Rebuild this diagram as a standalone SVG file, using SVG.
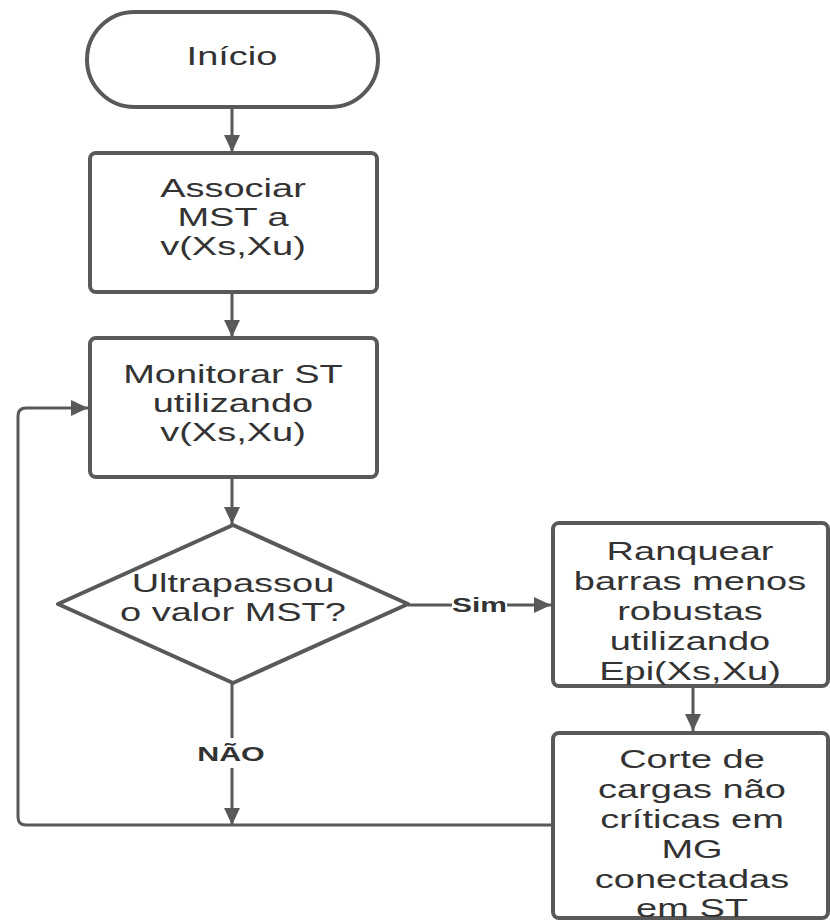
<svg xmlns="http://www.w3.org/2000/svg" width="830" height="921" viewBox="0 0 830 921">
  <defs>
    <marker id="arrow" markerUnits="userSpaceOnUse" markerWidth="18" markerHeight="18" refX="17" refY="8" orient="auto">
      <path d="M0,0 L17,8 L0,16 z" fill="#595959"/>
    </marker>
    <style>
      .shape { fill: #ffffff; stroke: #595959; stroke-width: 4; stroke-linejoin: round; }
      .conn { fill: none; stroke: #595959; stroke-width: 3; }
      .lbl { font-family: "Liberation Sans", Arial, sans-serif; font-size: 25px; fill: #333333; text-anchor: middle; }
      .edge-lbl { font-family: "Liberation Sans", Arial, sans-serif; font-size: 20px; font-weight: bold; fill: #333333; text-anchor: middle; }
    </style>
  </defs>

  <rect width="830" height="921" fill="#ffffff"/>

  <!-- connectors -->
  <g id="connectors">
    <line class="conn" x1="232" y1="108" x2="232" y2="152" marker-end="url(#arrow)"/>
    <line class="conn" x1="232" y1="292" x2="232" y2="337" marker-end="url(#arrow)"/>
    <line class="conn" x1="232" y1="477" x2="232" y2="524" marker-end="url(#arrow)"/>
    <!-- Sim branch -->
    <line class="conn" x1="408" y1="605" x2="452" y2="605"/>
    <line class="conn" x1="507" y1="605" x2="551" y2="605" marker-end="url(#arrow)"/>
    <!-- rank -> cut -->
    <line class="conn" x1="693" y1="686" x2="693" y2="731" marker-end="url(#arrow)"/>
    <!-- NÃO branch -->
    <line class="conn" x1="232" y1="683" x2="232" y2="738"/>
    <line class="conn" x1="232" y1="768" x2="232" y2="825" marker-end="url(#arrow)"/>
    <!-- loop back to monitoring -->
    <path class="conn" d="M553,825 H26 Q18,825 18,817 V416 Q18,408 26,408 H88" marker-end="url(#arrow)"/>
    <g transform="translate(479.5 0) scale(1.5 1)">
      <text class="edge-lbl" x="0" y="612">Sim</text>
    </g>
    <g transform="translate(231 0) scale(1.52 1)">
      <text class="edge-lbl" x="0" y="761">NÃO</text>
    </g>
  </g>

  <g id="inicio">
    <rect class="shape" x="87" y="12" width="291" height="95" rx="47.5" ry="47.5"/>
    <g transform="translate(232 0) scale(1.52 1)">
      <text class="lbl" x="0" y="65">Início</text>
    </g>
  </g>

  <g id="associar">
    <rect class="shape" x="90" y="153" width="287" height="139" rx="6"/>
    <g transform="translate(233 0) scale(1.52 1)">
      <text class="lbl" x="0" y="197">Associar</text>
      <text class="lbl" x="0" y="226">MST a</text>
      <text class="lbl" x="0" y="255">v(Xs,Xu)</text>
    </g>
  </g>

  <g id="monitorar">
    <rect class="shape" x="90" y="338" width="287" height="139" rx="6"/>
    <g transform="translate(233 0) scale(1.52 1)">
      <text class="lbl" x="0" y="383">Monitorar ST</text>
      <text class="lbl" x="0" y="412">utilizando</text>
      <text class="lbl" x="0" y="441">v(Xs,Xu)</text>
    </g>
  </g>

  <g id="decisao">
    <polygon class="shape" points="233,525 408,604 233,683 58,604"/>
    <g transform="translate(233 0) scale(1.52 1)">
      <text class="lbl" x="0" y="592">Ultrapassou</text>
      <text class="lbl" x="0" y="621">o valor MST?</text>
    </g>
  </g>

  <g id="ranquear">
    <rect class="shape" x="553" y="523" width="275" height="163" rx="6"/>
    <g transform="translate(690 0) scale(1.52 1)">
      <text class="lbl" x="0" y="560">Ranquear</text>
      <text class="lbl" x="0" y="590">barras menos</text>
      <text class="lbl" x="0" y="620">robustas</text>
      <text class="lbl" x="0" y="650">utilizando</text>
      <text class="lbl" x="0" y="680">Epi(Xs,Xu)</text>
    </g>
  </g>

  <g id="corte">
    <rect class="shape" x="553" y="733" width="275" height="185" rx="6"/>
    <g transform="translate(692 0) scale(1.52 1)">
      <text class="lbl" x="0" y="768">Corte de</text>
      <text class="lbl" x="0" y="798">cargas não</text>
      <text class="lbl" x="0" y="828">críticas em</text>
      <text class="lbl" x="0" y="858">MG</text>
      <text class="lbl" x="0" y="888">conectadas</text>
      <text class="lbl" x="0" y="917">em ST</text>
    </g>
  </g>
</svg>
